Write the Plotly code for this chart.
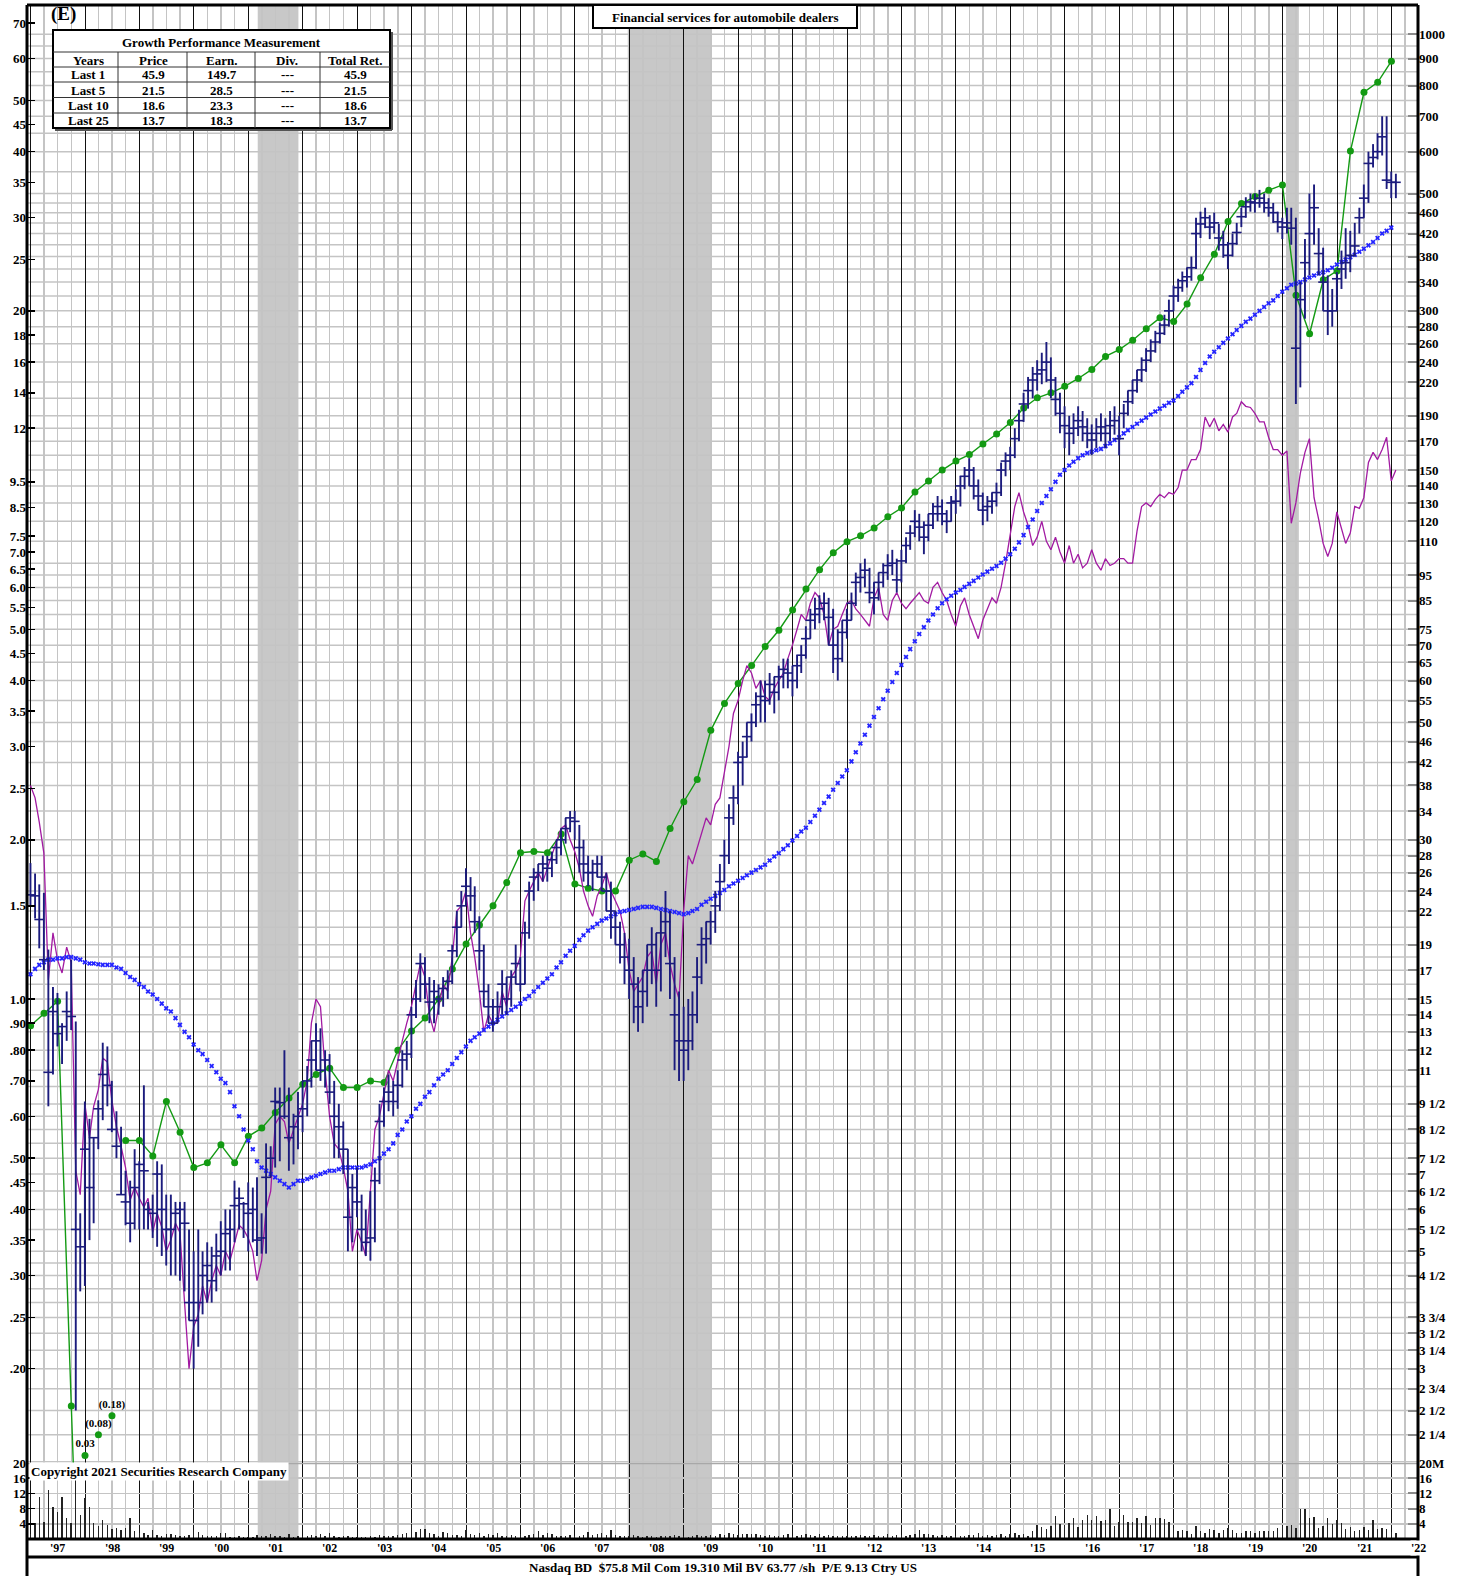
import calendar
import math
import plotly.graph_objects as go

# ------------------------------------------------------------------ DATA
# Monthly bars start Dec 1996 (302 months, Dec-1996 .. Jan-2022), values in $ (right scale)
bar_start_year, bar_start_month, n_bars = 1996, 12, 302

price_high = [
    27.1,
    25.9, 24.7, 23.8, 18.6, 15.8, 15.4, 13.5, 15.5, 17.8, 13.6, 5.9, 9.6,
    8.9, 8.2, 9.65, 12.4, 12.2, 10.5, 9.2, 8.6, 7.1, 6.8, 7.8, 7.4,
    10.3, 6.2, 6.4, 7.4, 7.3, 6.4, 6.4, 6.2, 6.2, 6.2, 5.5, 5.0,
    5.5, 5.0, 5.2, 5.1, 5.4, 5.7, 6.0, 6.0, 6.8, 6.6, 6.2, 6.75,
    6.6, 6.9, 5.9, 8.0, 7.9, 10.2, 10.2, 12.0, 10.2, 9.1, 10.0, 10.5,
    11.2, 12.5, 13.5, 13.2, 12.0, 11.8, 10.5, 9.5, 8.8, 7.8, 7.0, 7.2,
    6.4, 6.0, 6.5, 7.2, 9.5, 10.2, 10.8, 10.5, 11.0, 12.0, 12.5, 14.5,
    16.3, 18.3, 18.0, 16.5, 16.3, 16.0, 16.5, 17.0, 19.0, 22.0, 24.0, 26.5,
    25.5, 24.5, 21.5, 19.0, 16.0, 15.0, 15.5, 17.0, 16.5, 17.0, 19.0, 18.0,
    21.0, 25.0, 26.5, 27.0, 28.0, 28.0, 28.5, 30.0, 31.5, 33.0, 34.0, 34.0,
    32.0, 30.0, 28.0, 27.5, 28.0, 28.0, 26.0, 25.0, 22.0, 21.0, 20.0, 19.5,
    18.0, 16.5, 17.0, 19.0, 20.5, 20.0, 22.0, 24.0, 22.0, 18.0, 15.5, 14.5,
    15.0, 15.5, 18.0, 20.5, 21.0, 22.0, 24.0, 27.0, 30.0, 35.0, 38.0, 44.0,
    46, 50, 52, 57, 60, 60, 62, 61, 64, 66, 66, 64,
    67, 70, 76, 82, 86, 87, 88, 86, 82, 75, 78, 82,
    88, 96, 100, 102, 98, 92, 96, 100, 104, 106, 102, 106,
    112, 118, 126, 124, 120, 124, 130, 134, 132, 126, 134, 138,
    146, 152, 158, 152, 144, 136, 134, 136, 142, 155, 162, 166,
    180, 195, 210, 225, 235, 242, 250, 262, 245, 225, 210, 198,
    190, 192, 198, 194, 188, 183, 188, 192, 188, 194, 198, 190,
    200, 212, 222, 232, 245, 255, 265, 275, 285, 295, 315, 335,
    345, 356, 362, 380, 450, 462, 470, 455, 460, 438, 425, 405,
    420, 440, 470, 492, 500, 500, 508, 500, 490, 480, 462, 450,
    470, 470, 450, 340, 410, 500, 520, 430, 395, 350, 330, 355,
    390, 430, 425, 440, 470, 520, 600, 620, 650, 700, 700, 550,
    545,
]
price_low = [
    22.4,
    21.3, 18.7, 17.0, 9.4, 10.8, 12.2, 11.3, 12.5, 13.1, 2.5, 4.2, 4.3,
    5.25, 5.65, 7.8, 8.85, 9.4, 8.4, 7.5, 6.4, 5.6, 5.2, 5.5, 5.5,
    5.5, 5.5, 5.3, 5.1, 4.9, 4.7, 4.5, 4.5, 4.4, 4.2, 3.7, 3.0,
    3.3, 3.8, 4.0, 4.0, 4.2, 4.5, 4.6, 4.6, 5.2, 5.5, 5.3, 5.0,
    5.2, 4.9, 4.95, 4.95, 6.9, 7.2, 7.4, 8.9, 7.1, 7.3, 7.8, 8.4,
    9.0, 10.2, 11.0, 10.5, 10.2, 9.5, 7.5, 7.5, 7.0, 5.0, 5.2, 5.8,
    5.0, 4.9, 4.8, 5.2, 6.7, 8.6, 9.2, 9.0, 9.3, 10.2, 11.0, 11.6,
    13.8, 14.8, 15.0, 13.5, 13.5, 14.0, 14.5, 15.0, 16.0, 18.0, 20.5, 22.5,
    22.0, 20.0, 17.0, 14.5, 13.5, 13.0, 13.5, 14.0, 14.0, 14.5, 16.0, 15.5,
    16.0, 19.5, 23.0, 24.0, 25.0, 25.0, 25.5, 27.0, 28.0, 29.5, 31.0, 30.0,
    26.0, 25.0, 24.5, 24.0, 25.5, 24.0, 22.0, 19.5, 19.0, 17.5, 16.0, 15.0,
    13.5, 13.0, 13.5, 14.5, 16.0, 14.5, 15.5, 18.0, 15.0, 11.0, 10.5, 10.5,
    11.0, 12.0, 13.5, 16.0, 17.5, 19.0, 20.0, 22.0, 25.0, 27.0, 32.0, 35.0,
    38, 43, 46, 49, 50, 50, 54, 52, 55, 58, 58, 56,
    58, 62, 66, 72, 75, 77, 78, 70, 62, 60, 65, 72,
    78, 83, 88, 90, 84, 80, 85, 90, 93, 95, 88, 92,
    100, 106, 112, 110, 104, 110, 116, 120, 118, 114, 120, 124,
    128, 138, 140, 132, 126, 118, 120, 124, 128, 134, 146, 150,
    158, 170, 185, 196, 205, 212, 218, 220, 205, 190, 176, 165,
    160, 168, 174, 170, 165, 160, 165, 170, 165, 170, 175, 160,
    180, 190, 200, 210, 220, 230, 240, 250, 260, 270, 280, 300,
    312, 326, 332, 342, 360, 412, 430, 410, 420, 390, 378, 360,
    380, 400, 432, 450, 462, 460, 470, 460, 452, 440, 422, 410,
    420, 400, 200, 215, 290, 350, 400, 350, 300, 270, 280, 300,
    330, 345, 355, 380, 420, 450, 480, 560, 580, 590, 510, 490,
    490,
]
price_close = [
    23.6,
    23.5, 21.2, 17.8, 10.9, 14.2, 12.9, 13.3, 14.2, 13.9, 5.5, 5.1, 7.8,
    6.6, 8.2, 9.3, 10.8, 10.3, 8.5, 7.9, 6.4, 6.2, 5.65, 6.6, 7.3,
    7.1, 6.0, 5.9, 7.0, 6.0, 5.5, 5.5, 5.9, 6.0, 5.65, 4.0, 3.7,
    4.0, 4.5, 4.7, 4.4, 4.9, 5.0, 5.4, 5.5, 6.1, 6.3, 6.15, 5.9,
    6.0, 5.25, 5.3, 6.9, 7.5, 9.6, 9.55, 9.0, 8.2, 8.6, 9.0, 9.3,
    10.5, 11.5, 12.5, 11.0, 11.5, 10.0, 9.0, 8.6, 7.8, 5.8, 6.6, 6.2,
    5.5, 5.2, 5.3, 6.8, 8.8, 9.6, 10.0, 9.6, 10.3, 11.5, 11.8, 14.0,
    15.0, 17.5, 16.0, 14.8, 15.5, 15.0, 15.7, 16.2, 18.5, 20.5, 22.5, 24.5,
    23.5, 21.0, 18.5, 15.5, 14.5, 13.5, 14.5, 16.0, 15.0, 16.5, 17.5, 16.0,
    20.0, 24.0, 25.5, 26.0, 27.0, 26.5, 27.5, 29.0, 30.0, 31.5, 33.0, 32.5,
    29.0, 27.0, 26.0, 26.0, 27.0, 25.5, 24.0, 22.0, 20.5, 19.0, 18.0, 17.0,
    16.0, 14.5, 15.5, 17.0, 19.0, 17.0, 20.0, 21.0, 17.5, 14.0, 12.5, 12.0,
    12.5, 14.0, 16.5, 19.0, 19.5, 21.0, 22.5, 25.0, 28.0, 33.0, 36.0, 42.0,
    43, 47, 50, 54, 56, 55, 59, 57, 61, 63, 62, 60,
    64, 67, 72, 78, 80, 82, 84, 79, 70, 66, 74, 78,
    84, 92, 94, 97, 88, 86, 92, 96, 99, 100, 93, 101,
    108, 114, 120, 117, 112, 118, 124, 128, 124, 120, 130, 131,
    140, 146, 150, 140, 134, 126, 128, 131, 136, 150, 156, 160,
    172, 186, 200, 212, 222, 228, 232, 240, 222, 204, 192, 182,
    176, 180, 186, 181, 176, 171, 176, 181, 176, 182, 186, 172,
    192, 202, 212, 222, 232, 242, 252, 262, 272, 282, 300, 320,
    332, 342, 348, 362, 420, 438, 450, 432, 440, 412, 400, 382,
    402, 422, 452, 472, 482, 480, 490, 480, 470, 460, 442, 432,
    440, 430, 255, 315, 370, 420, 470, 385, 340, 300, 300, 345,
    360, 370, 382, 398, 450, 490, 570, 585, 600, 640, 530, 525,
    525,
]
# moving average (blue x), $ right scale
moving_avg = [
    16.7, 17.1, 17.4, 17.6, 17.8, 17.8, 17.9, 17.9, 18.0, 18.0, 17.9, 17.8, 17.6,
    17.5, 17.5, 17.45, 17.4, 17.4, 17.4, 17.2, 17.1, 16.8, 16.5, 16.3, 16.0,
    15.8, 15.5, 15.3, 15.0, 14.7, 14.4, 14.2, 13.8, 13.4, 13.0, 12.7, 12.3,
    12.0, 11.8, 11.5, 11.2, 10.9, 10.6, 10.4, 10.0, 9.4, 9.0, 8.5, 8.1,
    7.8, 7.4, 7.2, 7.1, 7.0, 6.9, 6.8, 6.7, 6.6, 6.7, 6.8, 6.8,
    6.85, 6.9, 6.95, 7.0, 7.05, 7.1, 7.1, 7.15, 7.2, 7.2, 7.2, 7.2,
    7.2, 7.25, 7.3, 7.4, 7.5, 7.65, 7.8, 8.0, 8.3, 8.5, 8.8, 9.0,
    9.3, 9.5, 9.8, 10.0, 10.3, 10.6, 10.8, 11.0, 11.3, 11.6, 11.9, 12.2,
    12.5, 12.7, 12.9, 13.1, 13.3, 13.5, 13.7, 13.9, 14.1, 14.3, 14.5, 14.7,
    15.0, 15.2, 15.5, 15.8, 16.1, 16.4, 16.7, 17.2, 17.6, 18.1, 18.5, 18.9,
    19.4, 19.8, 20.2, 20.5, 20.8, 21.1, 21.3, 21.5, 21.7, 21.9, 22.0, 22.1,
    22.2, 22.3, 22.4, 22.4, 22.4, 22.3, 22.2, 22.1, 22.0, 21.9, 21.8, 21.7,
    21.8, 22.0, 22.2, 22.6, 22.9, 23.2, 23.5, 23.8, 24.1, 24.5, 24.8, 25.1,
    25.4, 25.7, 26.0, 26.3, 26.6, 26.9, 27.4, 27.9, 28.3, 28.8, 29.3, 29.9,
    30.5, 31.1, 31.6, 32.4, 33.3, 34.2, 35.2, 36.2, 37.3, 38.4, 39.5, 40.6,
    42.2, 43.9, 45.6, 47.4, 49.3, 51.2, 53.2, 55.3, 57.4, 59.6, 62.0, 64.2,
    66.5, 68.8, 71.2, 73.5, 75.7, 77.9, 80.0, 82.2, 84.0, 85.5, 86.8, 88.0,
    89.0, 90.2, 91.4, 92.6, 94.0, 95.2, 96.4, 97.6, 98.8, 100.2, 102, 104,
    106.5, 109.5, 113, 117, 121, 125.5, 130, 134, 138, 142.5, 147, 150,
    153, 155.5, 158, 160, 161.5, 162.5, 163.5, 164.5, 166.5, 168.5, 171, 173,
    176, 178.5, 181, 183.5, 186, 188.5, 191, 193.5, 196, 198.5, 201, 203,
    207, 211, 215, 219, 225, 232, 239, 246, 251, 256, 261, 266,
    271, 276, 281, 286, 290, 295, 300, 305, 310, 314, 320, 326,
    331, 336, 338, 340, 344, 347, 350, 353, 355, 358, 362, 367,
    371, 375, 379, 383, 388, 393, 399, 405, 412, 420, 425, 431,
]
# relative strength line (magenta), right scale
rel_strength = [
    38,
    36, 32.4, 28.3, 16.3, 20, 17.8, 16.8, 18.8, 17.6, 7.1, 6.4, 9.5,
    8.2, 9.4, 10.1, 11.6, 11.4, 9.65, 8.6, 7.9, 7.2, 6.25, 6.6, 6.3,
    6.06, 6.3, 5.43, 5.9, 5.56, 5.0, 5.25, 5.65, 5.43, 4.0, 3.0, 3.6,
    3.8, 4.3, 4.0, 4.4, 4.7, 4.5, 5.0, 4.8, 5.2, 5.6, 5.5, 5.3,
    5.0, 4.4, 4.8, 6.0, 6.5, 8.7, 9.0, 8.8, 8.0, 8.5, 9.0, 9.5,
    10.5, 13.5, 15.0, 14.5, 11.0, 9.0, 8.0, 7.8, 7.2, 6.5, 5.0, 5.5,
    5.2, 4.9, 6.5, 8.5, 9.0, 10.0, 11.0, 10.5, 11.5, 12.5, 13.5, 14.5,
    16.0, 17.5, 16.5, 14.0, 13.0, 14.5, 16.0, 15.5, 18.0, 22.0, 22.5, 24.0,
    20.0, 18.0, 15.5, 13.0, 14.0, 13.5, 13.5, 15.5, 14.5, 16.5, 17.0, 18.0,
    23.0, 24.0, 25.0, 26.0, 25.0, 26.5, 28.0, 30.0, 31.5, 32.0, 30.0, 28.5,
    26.5, 24.0, 22.5, 21.5, 23.5, 24.5, 26.0, 24.0, 23.0, 22.0, 20.0, 17.0,
    15.5, 16.0, 16.5, 18.0, 18.5, 16.0, 19.0, 20.0, 17.5, 16.0, 15.0, 22.0,
    28, 27, 29, 31, 33, 32, 35, 36, 40, 45, 52, 55,
    60, 64, 62, 58, 60, 56, 55, 58, 60, 62, 66, 70,
    75, 80, 78, 84, 88, 86, 80, 70, 75, 76, 80, 84,
    85, 82, 80, 78, 76, 86, 90, 80, 78, 85, 88, 84,
    82, 84, 86, 88, 85, 84, 90, 92, 88, 85, 80, 76,
    83, 86, 80, 76, 72, 78, 82, 86, 84, 90, 100, 114,
    128, 136, 125, 118, 108, 112, 120, 110, 106, 112, 105, 100,
    108, 100, 104, 98, 100, 106, 100, 97, 102, 99, 100, 102,
    102, 100, 100, 115, 128, 130, 128, 132, 135, 133, 136, 135,
    139, 150, 150, 157, 157, 164, 189, 181, 188, 178, 183, 177,
    189, 192, 202, 198, 197, 192, 185, 185, 173, 164, 164, 160,
    163, 119, 130, 148, 162, 172, 133, 121, 109, 103, 109, 125,
    116, 109, 114, 128, 127, 133, 155, 162, 157, 164, 173, 143,
    150,
]
# monthly volume, millions of shares
volume_m = [
    1.3,
    4.3, 11, 4.5, 13, 8.5, 7.2, 11, 5.6, 4.3, 16.8, 6.4, 10.7,
    8.3, 4.3, 3.5, 5.1, 3.7, 2.7, 2.9, 2.4, 2.9, 5.6, 2.1, 1.6,
    1.6, 1.0, 2.4, 1.1, 0.8, 1.3, 1.3, 1.0, 0.8, 0.8, 1.0, 2.4,
    1.9, 1.1, 0.9, 0.9, 0.8, 1.6, 1.6, 0.4, 0.6, 0.7, 0.6, 0.6,
    0.5, 1.0, 0.8, 0.9, 1.2, 0.8, 0.7, 0.6, 1.4, 0.6, 0.7, 0.9,
    0.8, 1.0, 0.7, 1.2, 0.9, 1.5, 0.7, 0.6, 0.8, 0.7, 0.6, 0.5,
    0.4, 0.5, 0.7, 0.6, 1.0, 0.9, 0.7, 0.8, 1.0, 1.2, 1.5, 4.0,
    1.8, 2.7, 2.7, 1.5, 1.4, 0.9, 1.8, 1.5, 1.0, 1.0, 0.8, 2.5,
    1.2, 1.0, 1.5, 0.8, 1.3, 1.0, 1.7, 0.9, 0.8, 1.0, 0.9, 1.2,
    0.9, 1.0, 1.2, 2.2, 1.0, 1.5, 1.2, 0.8, 0.7, 0.9, 1.0, 0.8,
    0.7, 1.0, 1.8, 1.0, 1.2, 1.5, 1.0, 2.3, 1.0, 0.9, 0.8, 0.8,
    1.0, 0.7, 0.6, 0.8, 0.7, 0.6, 0.7, 0.8, 0.9, 1.0, 0.7, 0.8,
    0.6, 0.7, 1.0, 0.8, 0.9, 1.0, 0.8, 1.2, 1.0, 1.5, 1.3, 1.0,
    1.2, 1.4, 1.3, 1.2, 1.0, 0.8, 1.1, 0.8, 0.9, 1.0, 1.2, 0.9,
    0.8, 1.0, 1.3, 1.0, 0.9, 1.3, 0.8, 1.0, 0.9, 0.8, 0.9, 0.7,
    0.8, 0.9, 1.0, 0.7, 0.9, 1.0, 0.8, 0.9, 1.2, 0.9, 1.1, 1.0,
    0.9, 1.0, 1.3, 2.5, 1.3, 1.2, 1.0, 0.9, 1.1, 0.8, 0.9, 0.9,
    0.8, 0.9, 1.0, 1.1, 1.5, 0.9, 1.0, 0.8, 1.1, 1.3, 0.9, 1.4,
    1.5, 1.0, 1.3, 0.9, 2.0, 3.7, 3.2, 2.6, 3.3, 6.1, 4.0, 3.8,
    4.3, 5.4, 3.2, 5.0, 6.3, 5.0, 6.0, 4.7, 5.0, 7.9, 3.5, 4.5,
    6.3, 4.5, 4.5, 5.5, 4.3, 6.0, 3.8, 5.5, 5.5, 5.3, 4.5, 3.0,
    2.0, 2.3, 2.0, 1.3, 3.3, 2.0, 1.5, 2.6, 2.3, 1.5, 2.4, 2.8,
    2.3, 1.5, 1.6, 2.2, 2.2, 1.6, 2.2, 2.0, 2.0, 2.1, 2.9, 3.3,
    3.3, 3.6, 2.9, 8.0, 7.8, 5.6, 5.7, 2.9, 3.3, 5.4, 4.0, 5.0,
    4.2, 2.7, 3.2, 2.0, 2.5, 3.1, 2.3, 4.9, 2.6, 3.0, 2.6, 1.8,
    1.6,
]
# quarterly 12-month earnings per share (green), left scale, starting Q1 1997
eps_start_year = 1997
eps_values = [
    0.89, 0.94, 0.99, 0.17,
    0.03, -0.08, -0.18, 0.54,
    0.54, 0.505, 0.64, 0.56,
    0.48, 0.49, 0.53, 0.49,
    0.55, 0.57, 0.61, 0.65,
    0.69, 0.72, 0.74, 0.68,
    0.68, 0.70, 0.695, 0.80,
    0.87, 0.92, 1.0, 1.14,
    1.27, 1.38, 1.50, 1.66,
    1.89, 1.90, 1.89, 2.05,
    1.65, 1.62, 1.60, 1.60,
    1.83, 1.88, 1.82, 2.10,
    2.36, 2.60, 3.22, 3.62,
    3.95, 4.27, 4.64, 4.98,
    5.44, 5.96, 6.48, 6.98,
    7.32, 7.51, 7.77, 8.16,
    8.48, 9.09, 9.54, 10.0,
    10.4, 10.7, 11.2, 11.7,
    12.3, 13.1, 13.7, 14.0,
    14.4, 14.9, 15.5, 16.4,
    16.9, 17.6, 18.5, 19.4,
    19.1, 20.6, 23.1, 25.6,
    29.5, 31.9, 32.9, 33.8,
    34.6, 21.4, 18.1, 22.9,
    23.8, 40.1, 51.8, 54.1,
    59.3,
]
# off-scale earnings shown as labelled dots at the foot of the price panel
eps_note_dates = ["1998-01-01", "1998-04-01", "1998-07-01"]
eps_note_text = ["0.03", "(0.08)", "(0.18)"]
eps_note_level = [0.137, 0.150, 0.163]

recessions = [("2001-03-05", "2001-12-03"), ("2007-12-22", "2009-07-01"), ("2020-01-25", "2020-04-20")]

left_tick_vals = [70, 60, 50, 45, 40, 35, 30, 25, 20, 18, 16, 14, 12, 9.5, 8.5, 7.5, 7.0, 6.5, 6.0, 5.5,
                  5.0, 4.5, 4.0, 3.5, 3.0, 2.5, 2.0, 1.5, 1.0, 0.9, 0.8, 0.7, 0.6, 0.5, 0.45, 0.4, 0.35,
                  0.3, 0.25, 0.2]
left_tick_text = ["70", "60", "50", "45", "40", "35", "30", "25", "20", "18", "16", "14", "12", "9.5", "8.5",
                  "7.5", "7.0", "6.5", "6.0", "5.5", "5.0", "4.5", "4.0", "3.5", "3.0", "2.5", "2.0", "1.5",
                  "1.0", ".90", ".80", ".70", ".60", ".50", ".45", ".40", ".35", ".30", ".25", ".20"]
right_tick_vals = [1000, 900, 800, 700, 600, 500, 460, 420, 380, 340, 300, 280, 260, 240, 220, 190, 170,
                   150, 140, 130, 120, 110, 95, 85, 75, 70, 65, 60, 55, 50, 46, 42, 38, 34, 30, 28, 26, 24,
                   22, 19, 17, 15, 14, 13, 12, 11, 9.5, 8.5, 7.5, 7, 6.5, 6, 5.5, 5, 4.5, 3.75, 3.5, 3.25,
                   3, 2.75, 2.5, 2.25]
right_tick_text = ["1000", "900", "800", "700", "600", "500", "460", "420", "380", "340", "300", "280",
                   "260", "240", "220", "190", "170", "150", "140", "130", "120", "110", "95", "85", "75",
                   "70", "65", "60", "55", "50", "46", "42", "38", "34", "30", "28", "26", "24", "22", "19",
                   "17", "15", "14", "13", "12", "11", "9 1/2", "8 1/2", "7 1/2", "7", "6 1/2", "6",
                   "5 1/2", "5", "4 1/2", "3 3/4", "3 1/2", "3 1/4", "3", "2 3/4", "2 1/2", "2 1/4"]
extra_grid_vals = [950, 850, 750, 650, 550, 480, 440, 400, 360, 320, 205, 180, 160, 100, 90, 80,
                   20.5, 18, 16, 10.25, 9, 8, 4.75, 4.25, 4, 2]
vol_tick_vals = [4, 8, 12, 16, 20]
vol_left_text = ["4", "8", "12", "16", "20"]
vol_right_text = ["4", "8", "12", "16", "20M"]
year_labels = ["'%02d" % (y % 100) for y in range(1997, 2023)]

table_title = "Growth Performance Measurement"
table_header = ["Years", "Price", "Earn.", "Div.", "Total Ret."]
table_rows = [
    ["Last 1", "45.9", "149.7", "---", "45.9"],
    ["Last 5", "21.5", "28.5", "---", "21.5"],
    ["Last 10", "18.6", "23.3", "---", "18.6"],
    ["Last 25", "13.7", "18.3", "---", "13.7"],
]
chart_title = "Financial services for automobile dealers"
footer_text = "Nasdaq BD\u00a0 $75.8 Mil Com 19.310 Mil BV 63.77 /sh\u00a0 P/E 9.13 Ctry US"
copyright_text = "Copyright 2021 Securities Research Company"

# ------------------------------------------------------------------ GEOMETRY
W, H = 1466, 1576
PL, PR, PT, PB = 27, 1418, 5, 1539      # plot frame in pixels
PRICE_BOT = 1463                          # bottom of price panel (20M line)
PW, PH = PR - PL, PB - PT
price_dom0 = (PB - PRICE_BOT) / PH
DEC = 528.9                               # pixels per decade
left_top = math.log10(70) + (23.1 - PT) / DEC
left_bot = math.log10(70) - (PRICE_BOT - 23.1) / DEC
shift = math.log10(15)


def xp(px):
    return (px - PL) / PW


def yp(py):
    return (PB - py) / PH


def month_end(y, m, n):
    out = []
    for i in range(n):
        yy = y + (m - 1 + i) // 12
        mm = (m - 1 + i) % 12 + 1
        out.append("%d-%02d-%02d" % (yy, mm, calendar.monthrange(yy, mm)[1]))
    return out


bar_dates = month_end(bar_start_year, bar_start_month, n_bars)
eps_dates = ["%d-%02d-01" % (eps_start_year + i // 4, (i % 4) * 3 + 1) for i in range(len(eps_values))]
eps_plot = [v if v > 0 else None for v in eps_values]

FONT = "Liberation Serif"
NAVY = "#1b1b7d"
GREEN = "#139a13"
GRID = "#c4c4c4"

fig = go.Figure()

fig.add_trace(go.Bar(x=bar_dates, y=volume_m, yaxis="y3", marker=dict(color="#222222", line=dict(width=0)),
                     width=9.5 * 86400000))
fig.add_trace(go.Scatter(x=[bar_dates[0]], y=[None], yaxis="y4", showlegend=False))

fig.add_trace(go.Scatter(x=bar_dates, y=rel_strength, yaxis="y2", mode="lines",
                         line=dict(color="#a21aa2", width=1.3)))
fig.add_trace(go.Scatter(x=bar_dates, y=moving_avg, yaxis="y2", mode="markers",
                         marker=dict(symbol="x", size=4.5, color="#2424ff")))
fig.add_trace(go.Scatter(
    x=bar_dates, y=price_close, yaxis="y2", mode="markers",
    marker=dict(symbol="line-ew", size=7, line=dict(width=1.6, color=NAVY), color=NAVY),
    error_y=dict(type="data", symmetric=False,
                 array=[max(0, h - c) for h, c in zip(price_high, price_close)],
                 arrayminus=[max(0, c - l) for c, l in zip(price_close, price_low)],
                 width=0, thickness=1.9, color=NAVY)))
fig.add_trace(go.Scatter(x=eps_dates, y=eps_plot, yaxis="y", mode="lines+markers",
                         line=dict(color=GREEN, width=1.4), marker=dict(size=7, color=GREEN),
                         connectgaps=False))
fig.add_trace(go.Scatter(x=eps_note_dates, y=eps_note_level, yaxis="y", mode="markers+text",
                         text=eps_note_text, textposition="top center",
                         textfont=dict(family=FONT, size=11, color="black", weight="bold"),
                         marker=dict(size=7, color=GREEN)))

shapes = []
for a, b in recessions:
    shapes.append(dict(type="rect", xref="x", yref="paper", x0=a, x1=b, y0=0, y1=1,
                       fillcolor="#c8c8c8", line=dict(width=0), layer="below"))
for v in right_tick_vals + extra_grid_vals:
    shapes.append(dict(type="line", xref="paper", yref="y2", x0=0, x1=1, y0=v, y1=v,
                       line=dict(color=GRID, width=1.5), layer="below"))
shapes.append(dict(type="line", xref="paper", yref="y3", x0=0, x1=1, y0=20, y1=20,
                   line=dict(color="#a8a8a8", width=2.5)))
# frame
frame = dict(color="black", width=3)
shapes += [
    dict(type="line", xref="paper", yref="paper", x0=0, x1=0, y0=yp(H), y1=yp(PT), line=frame),
    dict(type="line", xref="paper", yref="paper", x0=1, x1=1, y0=yp(H), y1=yp(PT), line=frame),
    dict(type="line", xref="paper", yref="paper", x0=0, x1=1, y0=1, y1=1, line=frame),
    dict(type="line", xref="paper", yref="paper", x0=0, x1=1, y0=0, y1=0, line=frame),
    dict(type="line", xref="paper", yref="paper", x0=0, x1=1, y0=yp(1557), y1=yp(1557), line=frame),
]
# title box
shapes.append(dict(type="rect", xref="paper", yref="paper", x0=xp(593), x1=xp(857), y0=yp(28), y1=yp(PT),
                   fillcolor="white", line=dict(color="black", width=2)))
# table
TX0, TX1, TY0, TY1 = 53, 390, 30, 128
shapes.append(dict(type="line", xref="paper", yref="paper", x0=xp(TX1 + 2), x1=xp(TX1 + 2),
                   y0=yp(TY1 + 2), y1=yp(TY0 + 2), line=dict(color="#555", width=2)))
shapes.append(dict(type="line", xref="paper", yref="paper", x0=xp(TX0 + 2), x1=xp(TX1 + 2),
                   y0=yp(TY1 + 2), y1=yp(TY1 + 2), line=dict(color="#555", width=2)))
shapes.append(dict(type="rect", xref="paper", yref="paper", x0=xp(TX0), x1=xp(TX1), y0=yp(TY1), y1=yp(TY0),
                   fillcolor="white", line=dict(color="black", width=2)))
for yy in [52, 67, 82, 97.5, 113]:
    shapes.append(dict(type="line", xref="paper", yref="paper", x0=xp(TX0), x1=xp(TX1), y0=yp(yy), y1=yp(yy),
                       line=dict(color="#333", width=1)))
for xx in [118, 187, 255, 320]:
    shapes.append(dict(type="line", xref="paper", yref="paper", x0=xp(xx), x1=xp(xx), y0=yp(TY1), y1=yp(52),
                       line=dict(color="#333", width=1)))

ann = []


def text_at(px, py, text, size=13, **kw):
    d = dict(x=xp(px), y=yp(py), xref="paper", yref="paper", text=text, showarrow=False,
             xanchor="center", yanchor="middle",
             font=dict(family=FONT, size=size, color="black", weight="bold"))
    d.update(kw)
    ann.append(d)


for i, lab in enumerate(year_labels[:-1]):
    ann.append(dict(x="%d-07-02" % (1997 + i), y=yp(1548), xref="x", yref="paper", text=lab,
                    showarrow=False, xanchor="center", yanchor="middle",
                    font=dict(family=FONT, size=12, color="black", weight="bold")))
text_at(PR, 1548, year_labels[-1], size=12, bgcolor="white", borderpad=0)
text_at(725, 17, chart_title)
text_at(63, 14, "(E)", size=19)
text_at(222, 42.5, table_title)
col_x = [88, 153, 222, 287, 355]
row_y = [60, 75, 90, 105.5, 120.5]
for cx, t in zip(col_x, table_header):
    text_at(cx, row_y[0], t)
for r, row in enumerate(table_rows):
    for cx, t in zip(col_x, row):
        text_at(cx, row_y[r + 1], t)
text_at(29, 1471, copyright_text, xanchor="left", bgcolor="white", borderpad=1)
text_at(723, 1567, footer_text)

tickfont = dict(family=FONT, size=13, color="black", weight="bold")
fig.update_layout(
    width=W, height=H, margin=dict(l=PL, r=W - PR, t=PT, b=H - PB, autoexpand=False),
    paper_bgcolor="white", plot_bgcolor="rgba(0,0,0,0)", showlegend=False, hovermode=False,
    bargap=0,
    xaxis=dict(type="date", range=["1996-12-07 18:00", "2022-06-28 12:00"], anchor="y3", automargin=False,
               tick0="1997-01-01", dtick="M12", showgrid=True, gridcolor="#111", gridwidth=1,
               minor=dict(tick0="1997-01-01", dtick="M3", showgrid=True, gridcolor=GRID, gridwidth=1.5),
               showticklabels=False, ticks="", zeroline=False, showline=False),
    yaxis=dict(type="log", range=[left_bot, left_top], domain=[price_dom0, 1], anchor="x", automargin=False,
               tickmode="array", tickvals=left_tick_vals, ticktext=left_tick_text, ticks="inside",
               ticklen=8, tickwidth=1.5, tickcolor="black", tickfont=tickfont, showgrid=False,
               zeroline=False, showline=False),
    yaxis2=dict(type="log", range=[left_bot + shift, left_top + shift], overlaying="y", side="right",
                anchor="x", automargin=False, tickmode="array", tickvals=right_tick_vals,
                ticktext=right_tick_text, ticks="inside", ticklen=10, tickwidth=2, tickcolor="#8a8a8a",
                tickfont=tickfont, showgrid=False, zeroline=False, showline=False),
    yaxis3=dict(range=[0, 20], domain=[0, price_dom0], anchor="x", automargin=False, tickmode="array",
                tickvals=vol_tick_vals, ticktext=vol_left_text, ticks="inside", ticklen=8, tickwidth=1.5,
                tickcolor="black", tickfont=tickfont, showgrid=True, gridcolor=GRID, gridwidth=1.5,
                zeroline=False, showline=False),
    yaxis4=dict(range=[0, 20], overlaying="y3", side="right", anchor="x", automargin=False, tickmode="array",
                tickvals=vol_tick_vals, ticktext=vol_right_text, ticks="inside", ticklen=10, tickwidth=2,
                tickcolor="#8a8a8a", tickfont=tickfont, showgrid=False, zeroline=False, showline=False),
    shapes=shapes, annotations=ann,
)

fig.write_html("out.html", config={"displayModeBar": False, "staticPlot": True},
               post_script="document.body.style.margin='0px';")
